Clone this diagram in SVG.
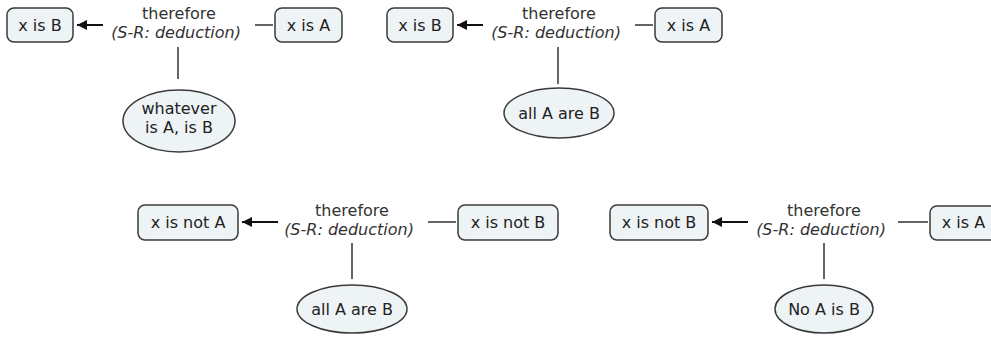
<svg xmlns="http://www.w3.org/2000/svg" width="991" height="339" viewBox="0 0 991 339">
  <defs>
    <marker id="arrow" viewBox="0 0 10 10" refX="10" refY="5" markerWidth="11" markerHeight="10" markerUnits="userSpaceOnUse" orient="auto">
      <path d="M0,0 L10,5 L0,10 z" fill="#111"/>
    </marker>
    <style>
      .box { fill: #eef3f6; stroke: #3a3a3a; stroke-width: 1.5; }
      .lbl { font-family: "DejaVu Sans", Verdana, sans-serif; font-size: 16px; fill: #222; text-anchor: middle; }
      .link { font-family: "DejaVu Sans", Verdana, sans-serif; font-size: 16px; fill: #333; text-anchor: middle; }
      .it { font-style: italic; }
      .edge { stroke: #333; stroke-width: 1.5; fill: none; }
      .arr { stroke: #111; stroke-width: 2; fill: none; marker-end: url(#arrow); }
    </style>
  </defs>
  <rect width="991" height="339" fill="#ffffff"/>

  <!-- connectors -->
  <g id="connectors">
    <!-- argument 1 -->
    <line class="arr" x1="103" y1="25" x2="77" y2="25"/>
    <line class="edge" x1="255" y1="25" x2="273" y2="25"/>
    <line class="edge" x1="178" y1="47" x2="178" y2="79"/>
    <!-- argument 2 -->
    <line class="arr" x1="483" y1="25" x2="457" y2="25"/>
    <line class="edge" x1="635" y1="25" x2="653" y2="25"/>
    <line class="edge" x1="558" y1="47" x2="558" y2="84"/>
    <!-- argument 3 -->
    <line class="arr" x1="278" y1="222" x2="242" y2="222"/>
    <line class="edge" x1="428" y1="222" x2="456" y2="222"/>
    <line class="edge" x1="352" y1="243" x2="352" y2="279"/>
    <!-- argument 4 -->
    <line class="arr" x1="748" y1="222" x2="712" y2="222"/>
    <line class="edge" x1="898" y1="222" x2="928" y2="222"/>
    <line class="edge" x1="824" y1="243" x2="824" y2="279"/>
  </g>

  <!-- argument 1 -->
  <g id="a1-conclusion">
    <rect class="box" x="7" y="8" width="66" height="34" rx="7"/>
    <text class="lbl" x="40" y="31">x is B</text>
  </g>
  <g id="a1-link">
    <text class="link" x="179" y="19">therefore</text>
    <text class="link it" x="176" y="38">(S-R: deduction)</text>
  </g>
  <g id="a1-premise">
    <rect class="box" x="275" y="8" width="67" height="34" rx="7"/>
    <text class="lbl" x="308.5" y="31">x is A</text>
  </g>
  <g id="a1-rule">
    <ellipse class="box" cx="179" cy="121" rx="56" ry="31"/>
    <text class="lbl" x="179" y="114">whatever</text>
    <text class="lbl" x="179" y="133">is A, is B</text>
  </g>

  <!-- argument 2 -->
  <g id="a2-conclusion">
    <rect class="box" x="387" y="8" width="66" height="34" rx="7"/>
    <text class="lbl" x="420" y="31">x is B</text>
  </g>
  <g id="a2-link">
    <text class="link" x="559" y="19">therefore</text>
    <text class="link it" x="556" y="38">(S-R: deduction)</text>
  </g>
  <g id="a2-premise">
    <rect class="box" x="655" y="8" width="67" height="34" rx="7"/>
    <text class="lbl" x="688.5" y="31">x is A</text>
  </g>
  <g id="a2-rule">
    <ellipse class="box" cx="559" cy="113" rx="55" ry="25"/>
    <text class="lbl" x="559" y="119">all A are B</text>
  </g>

  <!-- argument 3 -->
  <g id="a3-conclusion">
    <rect class="box" x="138" y="205" width="100" height="35" rx="7"/>
    <text class="lbl" x="188" y="228">x is not A</text>
  </g>
  <g id="a3-link">
    <text class="link" x="352" y="216">therefore</text>
    <text class="link it" x="349" y="235">(S-R: deduction)</text>
  </g>
  <g id="a3-premise">
    <rect class="box" x="458" y="205" width="100" height="35" rx="7"/>
    <text class="lbl" x="508" y="228">x is not B</text>
  </g>
  <g id="a3-rule">
    <ellipse class="box" cx="352" cy="309" rx="55" ry="24"/>
    <text class="lbl" x="352" y="315">all A are B</text>
  </g>

  <!-- argument 4 -->
  <g id="a4-conclusion">
    <rect class="box" x="610" y="205" width="98" height="35" rx="7"/>
    <text class="lbl" x="659" y="228">x is not B</text>
  </g>
  <g id="a4-link">
    <text class="link" x="824" y="216">therefore</text>
    <text class="link it" x="821" y="235">(S-R: deduction)</text>
  </g>
  <g id="a4-premise">
    <rect class="box" x="930" y="206" width="67" height="34" rx="7"/>
    <text class="lbl" x="963.5" y="228">x is A</text>
  </g>
  <g id="a4-rule">
    <ellipse class="box" cx="824" cy="309" rx="49" ry="24"/>
    <text class="lbl" x="824" y="315">No A is B</text>
  </g>
</svg>
